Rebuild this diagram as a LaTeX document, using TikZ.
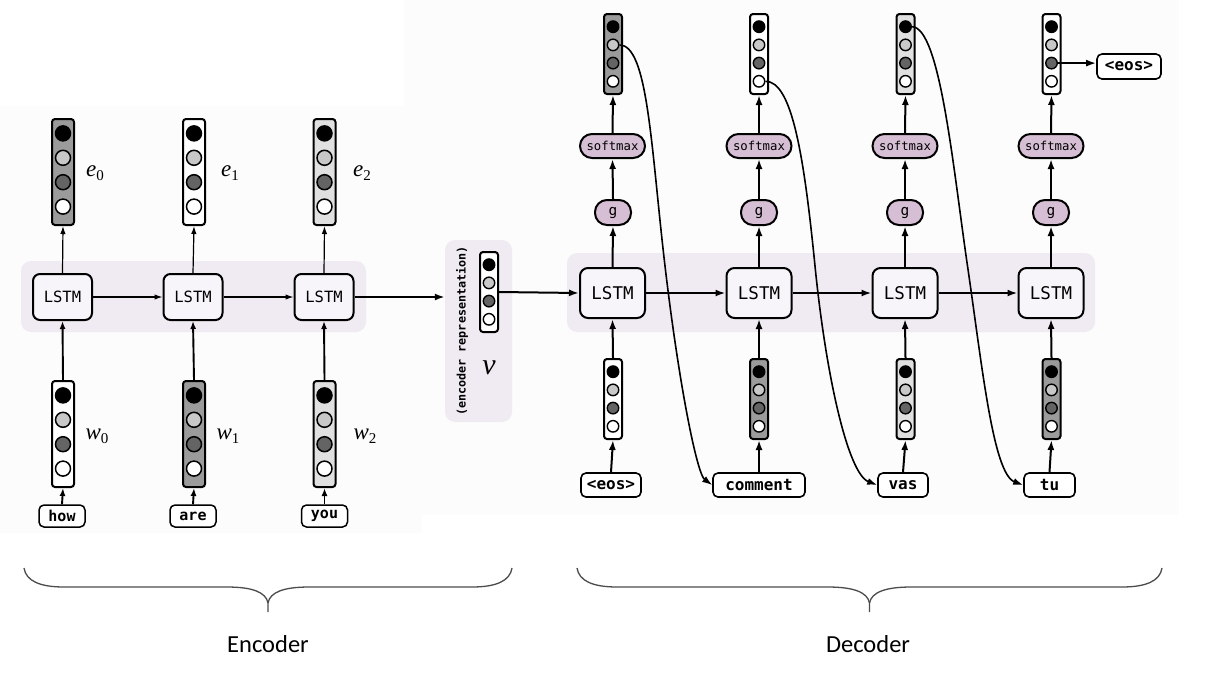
\documentclass[tikz,border=0pt]{standalone}
\usepackage{fontspec}
\usetikzlibrary{arrows.meta}
\newfontfamily\monof{DejaVu Sans Mono}
\newfontfamily\calib{Carlito}
\newfontfamily\serif{Liberation Serif}
\newcommand{\symlab}[2]{{\serif\itshape #1}\raisebox{-4pt}{\serif\fontsize{15}{15}\selectfont #2}}
\definecolor{panelc}{RGB}{252,252,252}
\definecolor{bandc}{RGB}{240,235,242}
\definecolor{lstmc}{RGB}{247,245,249}
\definecolor{pillc}{RGB}{214,191,212}
\definecolor{vdark}{RGB}{155,155,155}
\definecolor{vlight}{RGB}{224,224,224}
\definecolor{cgray}{RGB}{200,200,200}
\definecolor{cdark}{RGB}{100,100,100}
\tikzset{
  vecbox/.style={draw, line width=2pt, rounded corners=3pt, inner sep=0pt},
  ecirc/.style={circle, draw, line width=1.5pt, minimum size=15pt, inner sep=0pt},
  dcirc/.style={circle, draw, line width=1.4pt, minimum size=11.5pt, inner sep=0pt},
  pics/encvec/.style={code={
    \node[vecbox, minimum width=22pt, minimum height=106pt, fill=#1] (-box) at (0,0) {};
    \node[ecirc, fill=black] (-c1) at (0,-38.6) {};
    \node[ecirc, fill=cgray] (-c2) at (0,-14.2) {};
    \node[ecirc, fill=cdark] (-c3) at (0,10.2) {};
    \node[ecirc, fill=white] (-c4) at (0,34.6) {};
  }},
  pics/decvec/.style={code={
    \node[vecbox, minimum width=18pt, minimum height=80pt, fill=#1] (-box) at (0,0) {};
    \node[dcirc, fill=black] (-c1) at (0,-27.3) {};
    \node[dcirc, fill=cgray] (-c2) at (0,-9.1) {};
    \node[dcirc, fill=cdark] (-c3) at (0,9.1) {};
    \node[dcirc, fill=white] (-c4) at (0,27.3) {};
  }},
  elstm/.style={draw, line width=2pt, rounded corners=7pt, fill=lstmc, minimum width=59pt, minimum height=46pt, inner sep=0pt, font=\monof\fontsize{15.5}{15.5}\selectfont},
  dlstm/.style={draw, line width=2pt, rounded corners=8pt, fill=lstmc, minimum width=65pt, minimum height=50pt, inner sep=0pt, font=\monof\fontsize{17.5}{17.5}\selectfont},
  smx/.style={draw, line width=2pt, rounded corners=12pt, fill=pillc, minimum width=65pt, minimum height=24pt, inner sep=0pt, font=\monof\fontsize{12.3}{12.3}\selectfont},
  gnode/.style={draw, line width=2pt, rounded corners=12pt, fill=pillc, minimum width=36pt, minimum height=25pt, inner sep=0pt, font=\monof\fontsize{14.5}{14.5}\selectfont},
  eword/.style={draw, line width=1.5pt, rounded corners=5pt, fill=white, minimum width=46pt, minimum height=22pt, inner sep=0pt, font=\monof\bfseries\fontsize{15}{15}\selectfont},
  dword/.style={draw, line width=1.6pt, rounded corners=5pt, fill=white, minimum height=24pt, inner sep=0pt, font=\monof\bfseries\fontsize{16}{16}\selectfont},
  mlabel/.style={inner sep=0pt, font=\fontsize{23}{23}\selectfont},
  earr/.style={line width=1.9pt, -{Latex[length=8pt,width=6pt]}},
  ethin/.style={line width=1.2pt, -{Latex[length=8pt,width=5.5pt]}},
  darr/.style={line width=2pt, -{Latex[length=10pt,width=7pt]}},
  curvarr/.style={line width=1.6pt, -{Latex[length=10pt,width=7pt]}},
  brace/.style={line width=1.3pt, draw=black!70},
  biglabel/.style={inner sep=0pt, anchor=base, font=\calib\fontsize{24.5}{24.5}\selectfont},
}
\begin{document}
\begin{tikzpicture}[x=1pt, y=-1pt]
\useasboundingbox (0,0) rectangle (1214,697);
% panels
\fill[white] (0,0) rectangle (1214,697);
\fill[panelc] (0,106) rectangle (422,533);
\fill[panelc] (404,0) rectangle (1179,515);
% bands
\fill[bandc, rounded corners=10pt] (21,261) rectangle (366,332);
\fill[bandc, rounded corners=10pt] (567,253) rectangle (1095,332);
\node[fill=bandc, rounded corners=10pt, minimum width=67pt, minimum height=182pt, inner sep=0pt] (vpanel) at (478.5,331) {};

% ---------------- Encoder ----------------
\node[elstm] (el1) at (62.5,297) {LSTM};
\node[elstm] (el2) at (193,297) {LSTM};
\node[elstm] (el3) at (324,297) {LSTM};

\pic (e0) at (63,172) {encvec=vdark};
\pic (e1) at (194,172) {encvec=white};
\pic (e2) at (324.5,172) {encvec=vlight};
\pic (w0) at (63,434) {encvec=white};
\pic (w1) at (194,434) {encvec=vdark};
\pic (w2) at (324.5,434) {encvec=vlight};

\node[mlabel] (le0) at (95,173) {\symlab{e}{0}};
\node[mlabel] (le1) at (230,173) {\symlab{e}{1}};
\node[mlabel] (le2) at (362,173) {\symlab{e}{2}};
\node[mlabel] (lw0) at (97,436) {\symlab{w}{0}};
\node[mlabel] (lw1) at (228,436) {\symlab{w}{1}};
\node[mlabel] (lw2) at (365,436) {\symlab{w}{2}};

\node[eword] (how) at (62,516) {how};
\node[eword] (are) at (193,516) {are};
\node[eword] (you) at (324.5,516) {you};

\foreach \i/\w in {1/how,2/are,3/you}{
  \pgfmathtruncatemacro{\j}{\i-1}
  \draw[ethin] (el\i.north) -- (e\j-box.south);
  \draw[earr] (w\j-box.north) -- (el\i.south);
  \draw[earr] (\w.north) -- (w\j-box.south);
}
\draw[ethin] (el1.east) -- (el2.west);
\draw[ethin] (el2.east) -- (el3.west);
\draw[darr] (el3.east) -- (el3.east -| vpanel.west);

% ---------------- encoder representation ----------------
\node[rotate=90, inner sep=0pt, font=\monof\bfseries\fontsize{11.7}{11.7}\selectfont] (reptext) at (462,331) {(encoder representation)};
\pic (vv) at (489,292) {decvec=white};
\node[inner sep=0pt, font=\serif\itshape\fontsize{30}{30}\selectfont] (vlab) at (489,368) {ν};

% ---------------- Decoder ----------------
\node[dlstm] (dl1) at (612.5,293) {LSTM};
\node[dlstm] (dl2) at (759,293) {LSTM};
\node[dlstm] (dl3) at (905,293) {LSTM};
\node[dlstm] (dl4) at (1051,293) {LSTM};

\node[gnode] (g1) at (613,212.5) {g};
\node[gnode] (g2) at (759,212.5) {g};
\node[gnode] (g3) at (905,212.5) {g};
\node[gnode] (g4) at (1051,212.5) {g};

\node[smx] (sm1) at (612.5,146) {softmax};
\node[smx] (sm2) at (759,146) {softmax};
\node[smx] (sm3) at (905,146) {softmax};
\node[smx] (sm4) at (1051,146) {softmax};

\pic (d1) at (613,54) {decvec=vdark};
\pic (d2) at (759,54) {decvec=white};
\pic (d3) at (905.5,54) {decvec=vlight};
\pic (d4) at (1051.5,54) {decvec=white};

\pic (b1) at (613,399) {decvec=white};
\pic (b2) at (759,399) {decvec=vdark};
\pic (b3) at (905.5,399) {decvec=vlight};
\pic (b4) at (1051.5,399) {decvec=vdark};

\node[dword, minimum width=60pt] (dw1) at (611,485) {<eos>};
\node[dword, minimum width=92pt] (dw2) at (759,485) {comment};
\node[dword, minimum width=50pt] (dw3) at (903,485) {vas};
\node[dword, minimum width=51pt] (dw4) at (1049.5,485) {tu};
\node[dword, minimum width=64pt, minimum height=25pt] (eosout) at (1129,66.5) {<eos>};

\draw[darr] (vv-box.east) -- (dl1.west);
\draw[darr] (dl1.east) -- (dl2.west);
\draw[darr] (dl2.east) -- (dl3.west);
\draw[darr] (dl3.east) -- (dl4.west);
\foreach \i in {1,2,3,4}{
  \draw[darr] (dl\i.north) -- (g\i.south);
  \draw[darr] (g\i.north) -- (sm\i.south);
  \draw[darr] (sm\i.north) -- (d\i-box.south);
  \draw[darr] (b\i-box.north) -- (dl\i.south);
  \draw[darr] (dw\i.north) -- (b\i-box.south);
}
\draw[darr] (d4-c3.east) -- (d4-c3.east -| eosout.west);

% feedback curves
\draw[curvarr] (d1-c2.east) .. controls (648,45) and (651,147) .. (665,266)
  .. controls (679,385) and (697,474) .. (dw2.west);
\draw[curvarr] (d2-c4.east) .. controls (792,81) and (804,156) .. (815,266)
  .. controls (826,376) and (848,474) .. (dw3.west);
\draw[curvarr] (d3-c1.east) .. controls (940,27) and (953,167) .. (967.5,266)
  .. controls (982,365) and (993,474) .. (dw4.west);

% ---------------- Braces ----------------
\draw[brace] (24,568) .. controls (26,581) and (40,587) .. (64,587) -- (227,587)
  .. controls (252,587) and (266,592) .. (268,603) -- (268,612);
\draw[brace] (512,568) .. controls (510,581) and (496,587) .. (472,587) -- (309,587)
  .. controls (284,587) and (270,592) .. (268,603);
\draw[brace] (577,568) .. controls (579,581) and (593,587) .. (617,587) -- (828,587)
  .. controls (853,587) and (867.5,592) .. (869.5,603) -- (869.5,612);
\draw[brace] (1162,568) .. controls (1160,581) and (1146,587) .. (1122,587) -- (911,587)
  .. controls (886,587) and (871.5,592) .. (869.5,603);
\node[biglabel] (enclab) at (268,652) {Encoder};
\node[biglabel] (declab) at (868,652) {Decoder};
\end{tikzpicture}
\end{document}
